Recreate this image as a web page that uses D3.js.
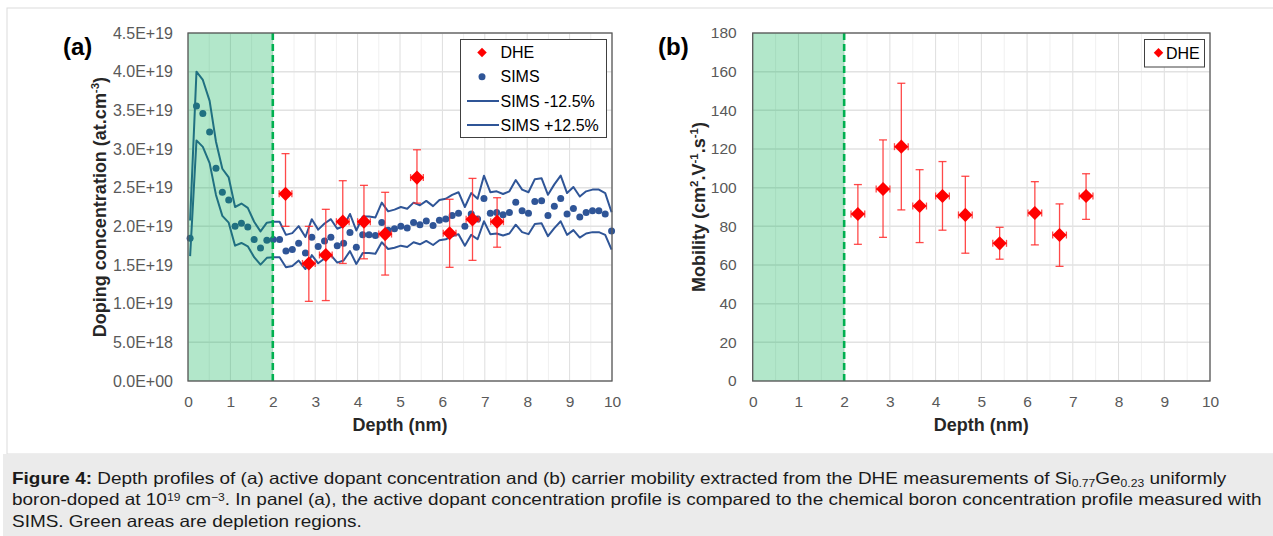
<!DOCTYPE html>
<html><head><meta charset="utf-8">
<script src="https://cdn.jsdelivr.net/npm/d3@7"></script>
<style>
body{margin:0;background:#fff}
svg{display:block;font-family:"Liberation Sans",Arial,Helvetica,sans-serif}
</style>
</head><body>
<svg id="c" width="1273" height="536"></svg>
<script>
// ---------------- DATA ----------------
const simsDepth = [0.05,0.20,0.35,0.51,0.66,0.81,0.96,1.11,1.26,1.41,1.56,1.71,1.86,2.01,2.16,2.31,2.46,2.61,2.77,2.92,
  3.07,3.22,3.37,3.52,3.67,3.82,3.97,4.12,4.27,4.42,4.57,4.72,4.87,5.02,5.17,5.32,5.47,5.62,5.78,5.93,
  6.08,6.23,6.38,6.53,6.68,6.83,6.98,7.13,7.28,7.43,7.58,7.73,7.88,8.03,8.18,8.34,8.49,8.64,8.79,8.94,
  9.09,9.24,9.39,9.54,9.69,9.84,9.99];
// SIMS boron concentration, in units of 1E+19 at.cm-3
const simsConc = [1.845,3.556,3.46,3.22,2.75,2.44,2.34,2.00,2.04,1.99,1.83,1.72,1.82,1.83,1.83,1.68,1.70,1.78,1.655,1.86,
  1.74,1.81,1.86,1.75,1.78,1.92,1.73,1.89,1.89,1.88,2.05,1.95,1.97,2.00,1.98,2.05,2.02,2.07,2.01,2.08,
  2.095,2.14,2.17,2.00,2.16,2.095,2.36,2.17,2.18,2.15,2.18,2.31,2.20,2.17,2.32,2.33,2.14,2.26,2.36,2.16,
  2.23,2.12,2.18,2.20,2.20,2.16,1.94];
const simsBand = 0.125; // "SIMS -12.5%" / "SIMS +12.5%"

const dheDepth = [2.30,2.85,3.25,3.65,4.15,4.65,5.40,6.17,6.71,7.29];
const dheDepthErr = 0.15;
// DHE active dopant concentration (1E+19 at.cm-3)
const dheConc     = [2.42,1.52,1.63,2.06,2.06,1.90,2.63,1.91,2.09,2.06];
const dheConcHigh = [2.94,2.00,2.22,2.59,2.53,2.44,2.99,2.35,2.62,2.37];
const dheConcLow  = [2.00,1.03,1.04,1.52,1.58,1.37,2.30,1.47,1.56,1.73];
// DHE mobility (cm2.V-1.s-1)
const dheMob      = [86.4,99.3,121.2,90.5,95.7,85.9,71.2,86.9,75.5,95.7];
const dheMobHigh  = [101.6,124.7,154.0,109.3,113.5,105.9,79.5,103.1,91.6,107.2];
const dheMobLow   = [70.7,74.3,88.5,71.6,78.0,66.1,63.0,70.4,59.3,83.6];

const depletionDepth = 2;
const xTicks = [0,1,2,3,4,5,6,7,8,9,10];
const xMinorTicks = [0.5,1.5,2.5,3.5,4.5,5.5,6.5,7.5,8.5,9.5];
const yTicksA = [0,0.5,1.0,1.5,2.0,2.5,3.0,3.5,4.0,4.5];
const yTickLabelsA = ["0.0E+00","5.0E+18","1.0E+19","1.5E+19","2.0E+19","2.5E+19","3.0E+19","3.5E+19","4.0E+19","4.5E+19"];
const yTicksB = [0,20,40,60,80,100,120,140,160,180];
const legendA = ["DHE","SIMS","SIMS -12.5%","SIMS +12.5%"];
const legendB = ["DHE"];

// ---------------- STYLE ----------------
const RED = "#ff0000", BLUE = "#2f5597", GREEN = "#00b050";
const TICK = "#595959", TITLE = "#262626";
const svg = d3.select("#c");

// frame + caption background
svg.append("rect").attr("x",7).attr("y",8).attr("width",1300).attr("height",446)
  .attr("fill","#fff").attr("stroke","#dcdcdc").attr("stroke-width",1);
svg.append("rect").attr("x",3).attr("y",454).attr("width",1280).attr("height",90).attr("fill","#ebebeb");

function rich(textSel, parts, fs, supK, subK){
  supK = supK || 0.4; subK = subK || 0.28;
  let shift = 0;
  parts.forEach(p=>{
    const target = p.sup ? -supK*fs : p.sub ? subK*fs : 0;
    const ts = textSel.append("tspan").text(p.t).attr("dy", target-shift);
    if(p.sup||p.sub) ts.attr("font-size", fs*0.64);
    if(p.bold) ts.attr("font-weight","bold");
    shift = target;
  });
}

function diamond(size){ return d3.symbol(d3.symbolSquare, size)(); }

function panel(cfg){
  const g = svg.append("g");
  const top = 33, bottom = 381;
  const x = d3.scaleLinear().domain([0,10]).range([cfg.x0,cfg.x1]);
  const y = d3.scaleLinear().domain([cfg.yTicks[0], cfg.yTicks[cfg.yTicks.length-1]]).range([bottom,top]);

  // grid
  g.selectAll(".vmin").data(xMinorTicks).join("line")
    .attr("x1",d=>x(d)).attr("x2",d=>x(d)).attr("y1",top).attr("y2",bottom)
    .attr("stroke","#f0f0f0").attr("stroke-width",1);
  g.selectAll(".vmaj").data(xTicks).join("line")
    .attr("x1",d=>x(d)).attr("x2",d=>x(d)).attr("y1",top).attr("y2",bottom)
    .attr("stroke","#dedede").attr("stroke-width",1);
  g.selectAll(".hmaj").data(cfg.yTicks).join("line")
    .attr("x1",cfg.x0).attr("x2",cfg.x1).attr("y1",d=>y(d)).attr("y2",d=>y(d))
    .attr("stroke","#e2e2e2").attr("stroke-width",1.5);

  if(cfg.sims){
    const line = d3.line().x((d,i)=>x(simsDepth[i])).y(d=>y(d));
    const lower = simsConc.map(v=>v*(1-simsBand));
    const upper = simsConc.map(v=>v*(1+simsBand));
    [lower, upper].forEach(arr=>{
      g.append("path").attr("d", line(arr)).attr("fill","none")
        .attr("stroke",BLUE).attr("stroke-width",2).attr("stroke-linejoin","round");
    });
    g.selectAll(".sims").data(simsConc).join("circle")
      .attr("cx",(d,i)=>x(simsDepth[i])).attr("cy",d=>y(d)).attr("r",3.5).attr("fill",BLUE);
  }

  // depletion region
  g.append("rect").attr("x",x(0)).attr("y",top).attr("width",x(depletionDepth)-x(0)).attr("height",bottom-top)
    .attr("fill",GREEN).attr("opacity",0.3);
  g.append("line").attr("x1",x(depletionDepth)).attr("x2",x(depletionDepth)).attr("y1",top).attr("y2",bottom)
    .attr("stroke",GREEN).attr("stroke-width",2.6).attr("stroke-dasharray","7,4");

  // DHE error bars
  const eb = g.append("g").attr("stroke","#ff2a2a").attr("stroke-width",1.3).attr("stroke-opacity",0.85);
  cfg.val.forEach((v,i)=>{
    const cx = x(dheDepth[i]);
    const yh = y(cfg.hi[i]), yl = y(cfg.lo[i]), cy = y(v);
    eb.append("line").attr("x1",cx).attr("x2",cx).attr("y1",yh).attr("y2",yl);
    eb.append("line").attr("x1",cx-4).attr("x2",cx+4).attr("y1",yh).attr("y2",yh);
    eb.append("line").attr("x1",cx-4).attr("x2",cx+4).attr("y1",yl).attr("y2",yl);
    const xl = x(dheDepth[i]-dheDepthErr), xr = x(dheDepth[i]+dheDepthErr);
    eb.append("line").attr("x1",xl).attr("x2",xr).attr("y1",cy).attr("y2",cy);
    eb.append("line").attr("x1",xl).attr("x2",xl).attr("y1",cy-3.5).attr("y2",cy+3.5);
    eb.append("line").attr("x1",xr).attr("x2",xr).attr("y1",cy-3.5).attr("y2",cy+3.5);
  });
  g.selectAll(".dhe").data(cfg.val).join("path")
    .attr("d", diamond(100))
    .attr("transform",(d,i)=>`translate(${x(dheDepth[i])},${y(d)}) rotate(45)`)
    .attr("fill",RED);

  // border
  g.append("rect").attr("x",cfg.x0).attr("y",top).attr("width",cfg.x1-cfg.x0).attr("height",bottom-top)
    .attr("fill","none").attr("stroke","#595959").attr("stroke-width",1.3);

  // axes
  const ax = g.append("g").attr("transform",`translate(0,${bottom})`)
    .call(d3.axisBottom(x).tickValues(xTicks).tickSize(0).tickPadding(15).tickFormat(d3.format("d")));
  ax.select(".domain").remove();
  ax.selectAll("text").attr("font-size",15.5).attr("fill",TICK).attr("font-family","Liberation Sans, Arial, sans-serif");
  const ay = g.append("g").attr("transform",`translate(${cfg.x0},0)`)
    .call(d3.axisLeft(y).tickValues(cfg.yTicks).tickSize(0).tickPadding(cfg.yPad)
      .tickFormat((d,i)=>cfg.yLabels[i]));
  ay.select(".domain").remove();
  ay.selectAll("text").attr("font-size",cfg.yFont).attr("fill",TICK).attr("font-family","Liberation Sans, Arial, sans-serif");

  // titles
  g.append("text").attr("x",(cfg.x0+cfg.x1)/2).attr("y",431).attr("text-anchor","middle")
    .attr("font-size",18).attr("font-weight","bold").attr("fill",TITLE).text("Depth (nm)");
  const yt = g.append("text").attr("transform",`translate(${cfg.yTitleX},207) rotate(-90)`)
    .attr("text-anchor","middle").attr("font-size",18).attr("font-weight","bold").attr("fill",TITLE);
  rich(yt, cfg.yTitle, 18);
  g.append("text").attr("x",cfg.tagX).attr("y",55).attr("font-size",24).attr("font-weight","bold")
    .attr("fill","#000").text(cfg.tag);
  return {g,x,y};
}

panel({x0:188, x1:612, yTicks:yTicksA, yLabels:yTickLabelsA, yPad:15, yFont:16,
  sims:true, val:dheConc, hi:dheConcHigh, lo:dheConcLow, yTitleX:106, tag:"(a)", tagX:63,
  yTitle:[{t:"Doping concentration (at.cm"},{t:"-3",sup:true},{t:")"}]});
panel({x0:752.7, x1:1210, yTicks:yTicksB, yLabels:yTicksB.map(String), yPad:16, yFont:15.5,
  sims:false, val:dheMob, hi:dheMobHigh, lo:dheMobLow, yTitleX:705, tag:"(b)", tagX:658,
  yTitle:[{t:"Mobility (cm"},{t:"2",sup:true},{t:".V"},{t:"-1",sup:true},{t:".s"},{t:"-1",sup:true},{t:")"}]});

// legends
const la = svg.append("g");
la.append("rect").attr("x",460.5).attr("y",39.5).attr("width",146).attr("height",98)
  .attr("fill","#fff").attr("stroke","#404040").attr("stroke-width",1);
const lyA = [52.5,76.7,101,125];
la.append("path").attr("d",diamond(45)).attr("transform",`translate(482,${lyA[0]}) rotate(45)`).attr("fill",RED);
la.append("circle").attr("cx",482).attr("cy",lyA[1]).attr("r",3.5).attr("fill",BLUE);
[2,3].forEach(k=>la.append("line").attr("x1",467).attr("x2",499).attr("y1",lyA[k]).attr("y2",lyA[k])
  .attr("stroke",BLUE).attr("stroke-width",2));
legendA.forEach((t,i)=>la.append("text").attr("x",500.5).attr("y",lyA[i]+5.7).attr("font-size",16)
  .attr("fill","#000").text(t));

const lb = svg.append("g");
lb.append("rect").attr("x",1144.5).attr("y",39.5).attr("width",60).attr("height",27.5)
  .attr("fill","#fff").attr("stroke","#404040").attr("stroke-width",1);
lb.append("path").attr("d",diamond(45)).attr("transform",`translate(1158.5,52.8) rotate(45)`).attr("fill",RED);
legendB.forEach(t=>lb.append("text").attr("x",1166).attr("y",58.5).attr("font-size",16).attr("fill","#000").text(t));

// caption (reference face is wider than Liberation Sans: stretch horizontally to the same line width)
const captionLines = [
  [{t:"Figure 4:",bold:true},{t:" Depth profiles of (a) active dopant concentration and (b) carrier mobility extracted from the DHE measurements of Si"},{t:"0.77",sub:true},{t:"Ge"},{t:"0.23",sub:true},{t:" uniformly"}],
  [{t:"boron-doped at 10"},{t:"19",sup:true},{t:" cm"},{t:"\u22123",sup:true},{t:". In panel (a), the active dopant concentration profile is compared to the chemical boron concentration profile measured with"}],
  [{t:"SIMS. Green areas are depletion regions."}]
];
const capFont = 16.5;
const capG = svg.append("g").attr("transform","translate(12,0)");
const capNodes = [];
captionLines.forEach((parts,i)=>{
  const t = capG.append("text").attr("x",0).attr("y",484+i*21.5).attr("font-size",capFont).attr("fill","#1a1a1a");
  rich(t, parts, capFont, 0.3, 0.17);
  capNodes.push(t.node());
});
const capW = capNodes[1].getComputedTextLength();
const sx = (capW > 0) ? Math.max(0.9, Math.min(1.35, 1250 / capW)) : 1;
capG.attr("transform", `translate(12,0) scale(${sx},1)`);
</script>
</body></html>
